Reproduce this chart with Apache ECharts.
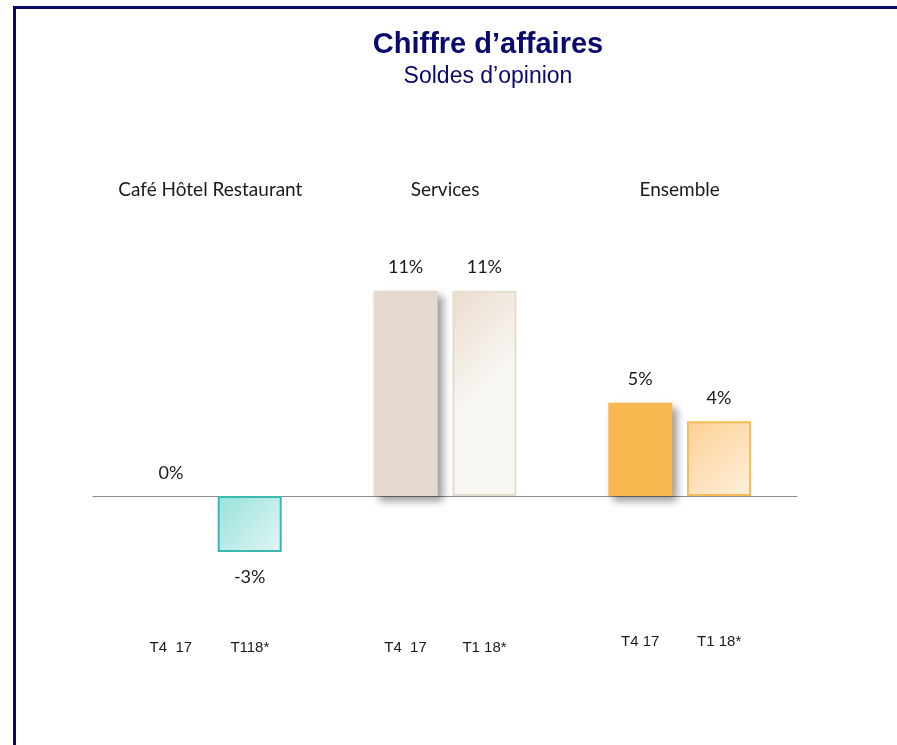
<!DOCTYPE html>
<html>
<head>
<meta charset="utf-8">
<script src="https://cdn.jsdelivr.net/npm/echarts@6/dist/echarts.min.js"></script>
<style>
  html, body { margin: 0; padding: 0; background: #fff; }
  #frame {
    position: absolute; left: 13px; top: 6px;
    width: 1000px; height: 800px;
    border-left: 3px solid #0a0a6e; border-top: 3px solid #0a0a6e;
  }
  #chiffreChart { position: absolute; left: 0; top: 0; width: 897px; height: 745px; }
</style>
</head>
<body>
<div id="frame"></div>
<div id="chiffreChart"></div>
<script>
// groupes et trimestres
var groupes = ["Café Hôtel Restaurant", "Services", "Ensemble"];
var trimestres = [
  ["T4  17", "T118*"],
  ["T4  17", "T1 18*"],
  ["T4 17", "T1 18*"]
];
var serieT4 = [0, 11, 5];
var serieT1 = [-3, 11, 4];

var chart = echarts.init(document.getElementById("chiffreChart"));

function grad(x2, y2, c0, c1) {
  return new echarts.graphic.LinearGradient(0, 0, x2, y2, [
    { offset: 0, color: c0 },
    { offset: 1, color: c1 }
  ]);
}

var pleins = [
  { color: "rgba(0,0,0,0)", shadowColor: "rgba(0,0,0,0.08)" },
  { color: "#e3d9cc" },
  { color: "#f9b84f" }
];
var degrades = [
  { color: grad(1, 1, "#98e2dc", "#e2f5f3"), borderColor: "#3cb8ad", borderWidth: 2 },
  { color: grad(1, 0.3, "#eadccf", "#f8f6f2"), borderColor: "#e6ddd1", borderWidth: 2 },
  { color: grad(1, 1, "#fdd094", "#fff0dc"), borderColor: "#f9bb5a", borderWidth: 2 }
];

var labelStyle = {
  show: true,
  position: "top",
  distance: 14,
  fontFamily: "Lato",
  fontSize: 18,
  color: "#1a1a1a",
  formatter: "{c}%"
};

var petit = { width: 79, align: "center", fontFamily: "Liberation Sans", fontSize: 15, color: "#1a1a1a", lineHeight: 26 };
var petitHaut = Object.assign({}, petit, { lineHeight: 14 });

var option = {
  animation: false,
  title: {
    text: "Chiffre d’affaires",
    subtext: "Soldes d’opinion",
    left: 483,
    top: 25,
    textAlign: "center",
    itemGap: 6,
    textStyle: { fontFamily: "Liberation Sans", fontSize: 29, fontWeight: "bold", color: "#0a0a6e" },
    subtextStyle: { fontFamily: "Liberation Sans", fontSize: 23, color: "#0a0a6e" }
  },
  grid: { left: 93, right: 100, top: 272, height: 336 },
  xAxis: [
    {
      type: "category",
      data: groupes,
      position: "bottom",
      axisLine: { onZero: true, lineStyle: { color: "#8c8c8c", width: 1 } },
      axisTick: { show: false },
      axisLabel: { show: false }
    },
    {
      type: "category",
      data: groupes,
      position: "top",
      axisLine: { show: false },
      axisTick: { show: false },
      axisLabel: { interval: 0, hideOverlap: false, margin: 73, fontFamily: "Lato", fontSize: 19, color: "#1a1a1a" }
    },
    {
      type: "category",
      data: groupes,
      position: "bottom",
      axisLine: { show: false, onZero: false },
      axisTick: { show: false },
      axisLabel: {
        margin: 27,
        interval: 0,
        formatter: function (v, i) {
          var t = trimestres[i];
          if (i === 2) return "{c|" + t[0] + "}{c|" + t[1] + "}";
          return "{a|" + t[0] + "}{a|" + t[1] + "}";
        },
        rich: { a: petit, c: petitHaut }
      }
    }
  ],
  yAxis: {
    type: "value",
    min: -6,
    max: 12,
    show: false,
    splitLine: { show: false }
  },
  series: [
    {
      name: "T4 17",
      type: "bar",
      barWidth: 64,
      barGap: "23%",
      itemStyle: {
        shadowColor: "rgba(0,0,0,0.4)",
        shadowBlur: 8,
        shadowOffsetX: 5,
        shadowOffsetY: 5
      },
      label: labelStyle,
      data: serieT4.map(function (v, i) {
        return { value: v, itemStyle: pleins[i] };
      })
    },
    {
      name: "T1 18*",
      type: "bar",
      barWidth: 64,
      label: labelStyle,
      data: serieT1.map(function (v, i) {
        var d = { value: v, itemStyle: degrades[i] };
        if (v < 0) d.label = { position: "bottom", distance: 16 };
        return d;
      })
    }
  ]
};

chart.setOption(option);
</script>
</body>
</html>
